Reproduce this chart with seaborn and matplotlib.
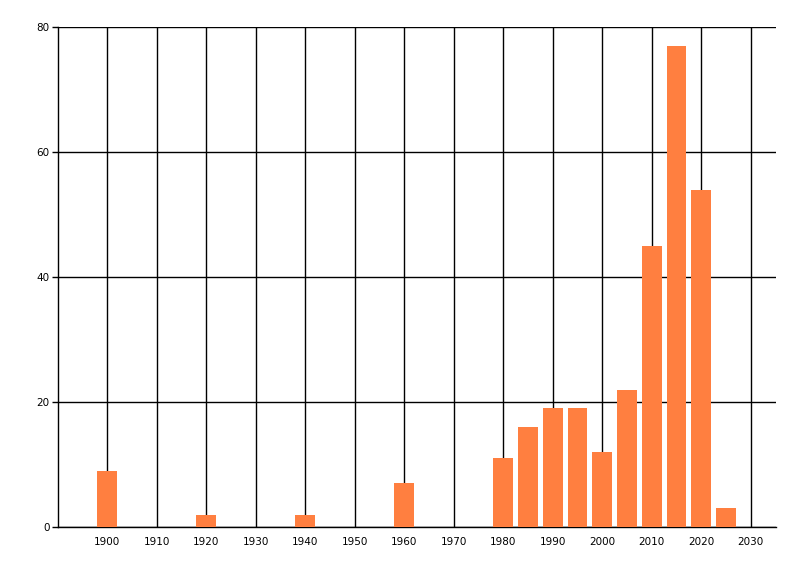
import matplotlib
matplotlib.use("Agg")
import matplotlib.pyplot as plt
import seaborn as sns
import pandas as pd

years = [1900, 1920, 1940, 1960, 1980, 1985, 1990, 1995, 2000, 2005, 2010, 2015, 2020, 2025]
counts = [9, 2, 2, 7, 11, 16, 19, 19, 12, 22, 45, 77, 54, 3]
x_ticks = list(range(1900, 2031, 10))
y_ticks = [0, 20, 40, 60, 80]

df = pd.DataFrame({"Year": years, "Count": counts})

sns.set_style("white")
plt.rcParams["font.family"] = ["DejaVu Sans"]

fig = plt.figure(figsize=(8, 5.76), dpi=100)
ax = fig.add_axes([0.0725, 0.085, 0.8975, 0.868])

sns.barplot(data=df, x="Year", y="Count", native_scale=True, width=0.8,
            color="#FF7F40", saturation=1, linewidth=0, ax=ax, zorder=3)

ax.set_xlim(1890.1, 2035.1)
ax.set_ylim(0, 80)
ax.set_xticks(x_ticks)
ax.set_yticks(y_ticks)
ax.set_xlabel("")
ax.set_ylabel("")
ax.grid(True, color="black", linewidth=1)
ax.set_axisbelow(True)
for side in ["top", "right"]:
    ax.spines[side].set_visible(False)
for side in ["left", "bottom"]:
    ax.spines[side].set_color("black")
    ax.spines[side].set_linewidth(1)
ax.tick_params(axis="y", left=True, labelsize=7.5, length=4, color="black",
               labelcolor="black", width=1, pad=2)
ax.tick_params(axis="x", bottom=False, labelsize=7.5, labelcolor="black", pad=4)

fig.savefig("out.png", dpi=100)
